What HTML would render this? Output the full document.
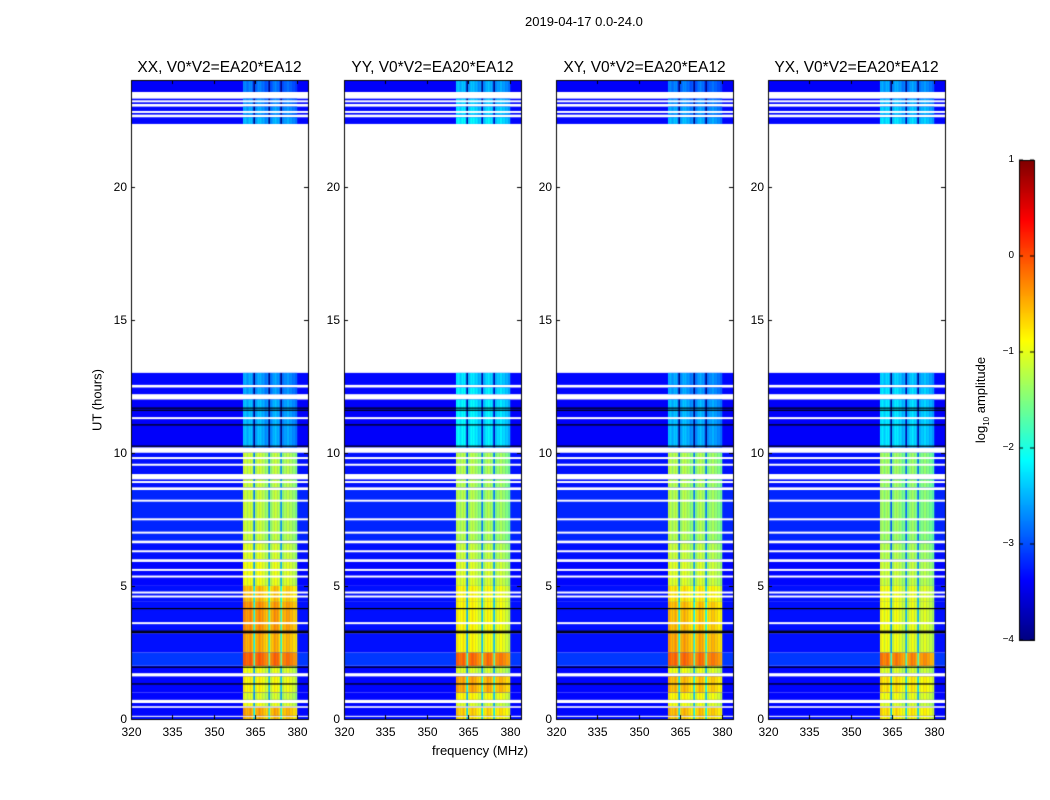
<!DOCTYPE html>
<html><head><meta charset="utf-8">
<style>
body{margin:0;background:#fff;font-family:"Liberation Sans","DejaVu Sans",sans-serif;}
#wrap{position:relative;width:1050px;height:800px;overflow:hidden;background:#fff}
.t{position:absolute;white-space:nowrap;color:#000}
canvas{position:absolute;left:0;top:0}
</style></head><body>
<div id="wrap">
<canvas id="cv" width="1050" height="800"></canvas>
<div class="t" style="left:525px;top:14px;font-size:13px">2019-04-17 0.0-24.0</div>
<div class="t" style="left:97px;top:400px;font-size:13px;transform:translate(-50%,-50%) rotate(-90deg);transform-origin:center">UT (hours)</div>
<div class="t" style="left:432px;top:743px;font-size:13px">frequency (MHz)</div>
<div class="t" style="left:982px;top:400px;font-size:13px;transform:translate(-50%,-50%) rotate(-90deg)">log<sub style="font-size:8px">10</sub> amplitude</div>
<div id="labels"></div>
</div>
<script>
// ---- data ----
const panelTitles=["XX, V0*V2=EA20*EA12","YY, V0*V2=EA20*EA12","XY, V0*V2=EA20*EA12","YX, V0*V2=EA20*EA12"];
const xTicks=[320,335,350,365,380];
const yTicks=[0,5,10,15,20];
const cbTicks=[1,0,-1,-2,-3,-4];
const cbTickLabels=["1","0","\u22121","\u22122","\u22123","\u22124"];
// time segments (hours)
const segStart=[0,0.08,0.12,0.42,0.48,0.6,0.72,1.0,1.6,1.72,2.0,2.5,3.2,4.4,5.0,5.9,6.0,6.6,6.7,8.6,8.7,9.0,9.2,10.0,10.2,12.0,12.2,12.45,12.55,13.0,22.35,22.6,22.7,23.0,23.1,23.3,23.55];
const segEnd  =[0.08,0.12,0.42,0.48,0.6,0.72,1.0,1.6,1.72,2.0,2.5,3.2,4.4,5.0,5.9,6.0,6.6,6.7,8.6,8.7,9.0,9.2,10.0,10.2,12.0,12.2,12.45,12.55,13.0,22.35,22.6,22.7,23.0,23.1,23.3,23.55,24];
const segBg   =[-3.3,null,-3.35,null,-3.35,null,-3.35,-3.35,null,-3.35,-3.1,-3.3,-3.3,-3.3,-3.35,null,-3.3,null,-3.2,null,-3.3,null,-3.3,null,-3.4,null,-3.35,null,-3.35,null,-3.35,null,-3.35,null,-3.35,null,-3.4];
const bandXX  =[-0.6,null,-0.5,null,-1.0,null,-1.1,-0.9,null,-1.0,-0.15,-0.5,-0.4,-0.6,-1.0,null,-1.1,null,-1.2,null,-1.2,null,-1.2,null,-2.5,null,-2.6,null,-2.6,null,-2.5,null,-2.6,null,-2.7,null,-2.8];
const bandYY  =[-0.8,null,-0.7,null,-1.1,null,-0.9,-0.5,null,-1.1,-0.2,-0.9,-0.9,-0.9,-1.1,null,-1.2,null,-1.3,null,-1.3,null,-1.3,null,-2.2,null,-2.2,null,-2.3,null,-2.2,null,-2.3,null,-2.4,null,-2.5];
const bandXY  =[-0.7,null,-0.6,null,-1.0,null,-0.9,-0.6,null,-1.0,-0.2,-0.5,-0.6,-0.8,-1.1,null,-1.2,null,-1.3,null,-1.3,null,-1.3,null,-2.5,null,-2.6,null,-2.6,null,-2.5,null,-2.6,null,-2.7,null,-2.8];
const bandYX  =[-0.9,null,-0.8,null,-1.1,null,-1.0,-0.8,null,-1.1,-0.3,-1.0,-1.0,-1.0,-1.2,null,-1.3,null,-1.4,null,-1.4,null,-1.4,null,-2.3,null,-2.3,null,-2.4,null,-2.3,null,-2.4,null,-2.5,null,-2.6];
const bandLevels=[bandXX,bandYY,bandXY,bandYX];
// in-band channel modifier, 36 bins from 360.5 to 380 MHz
const bandLo=360.5, bandHi=380;
const bandMod=[0.1,0.1,0,0,0.1,0.1,-0.1,-1.6,-0.1,0,0.1,0.1,0,0,-0.1,-0.2,-0.1,-1.5,-0.2,-0.1,0,0.1,0,0,-0.2,-1.5,-0.2,-0.1,-0.1,0,0,-0.1,-0.1,-0.2,-0.2,-0.3];
const whiteLines=[3.6,4.6,4.75,5.35,5.6,6.3,7.0,7.5,8.2,8.9,9.55,9.8,11.3,22.8,23.2];
const blackLines=[1.32,1.95,3.25,3.3,4.15,10.25,11.05,11.6,11.68];
// ---- layout ----
const px=[131,344,556,768], pw=177, yTop=80, yBot=719;
const fMin=320,fMax=384;
const X=(p,f)=>px[p]+(f-fMin)/(fMax-fMin)*pw;
const Y=h=>yBot-h/24*(yBot-yTop);
function jet(v){let t=(v+4)/5;t=Math.max(0,Math.min(1,t));
 const c=x=>Math.round(255*Math.max(0,Math.min(1,x)));
 return `rgb(${c(1.5-Math.abs(4*t-3))},${c(1.5-Math.abs(4*t-2))},${c(1.5-Math.abs(4*t-1))})`;}
const cv=document.getElementById('cv'),ctx=cv.getContext('2d');
const L=document.getElementById('labels');
function lab(txt,x,y,fs,name,align){const d=document.createElement('div');d.className='t';d.textContent=txt;
 d.style.fontSize=fs+'px';d.style.top=(y-fs*0.6)+'px';
 if(align==='c'){d.style.left=x+'px';d.style.transform='translateX(-50%)';}
 else if(align==='r'){d.style.right=(1050-x)+'px';} else d.style.left=x+'px';
 
 
 L.appendChild(d);}
const binW=(bandHi-bandLo)/bandMod.length;
for(let p=0;p<4;p++){
 const bl=bandLevels[p];
 for(let s=0;s<segStart.length;s++){
  if(segBg[s]===null)continue;
  const y0=Y(segEnd[s]),y1=Y(segStart[s]);
  ctx.fillStyle=jet(segBg[s]);ctx.fillRect(X(p,fMin),y0,X(p,fMax)-X(p,fMin),y1-y0);
  for(let b=0;b<bandMod.length;b++){
   const f0=bandLo+b*binW;
   ctx.fillStyle=jet(bl[s]+bandMod[b]);
   ctx.fillRect(X(p,f0),y0,X(p,f0+binW)-X(p,f0)+0.3,y1-y0);
  }
 }
 ctx.fillStyle='#fff';
 whiteLines.forEach(h=>ctx.fillRect(X(p,fMin),Y(h)-1,pw,2));
 ctx.fillStyle='#000';
 blackLines.forEach(h=>ctx.fillRect(X(p,fMin),Y(h)-0.5,pw,1.2));
 ctx.strokeStyle='#000';ctx.lineWidth=1;
 ctx.strokeRect(px[p]+0.5,yTop+0.5,pw,yBot-yTop);
 xTicks.forEach(f=>{const x=Math.round(X(p,f))+0.5;ctx.beginPath();ctx.moveTo(x,yBot);ctx.lineTo(x,yBot-4);ctx.moveTo(x,yTop);ctx.lineTo(x,yTop+4);ctx.stroke();
  lab(String(f),x,yBot+13,12,'x-tick-label','c');});
 yTicks.forEach(h=>{const y=Math.round(Y(h))+0.5;ctx.beginPath();ctx.moveTo(px[p],y);ctx.lineTo(px[p]+4,y);ctx.moveTo(px[p]+pw,y);ctx.lineTo(px[p]+pw-4,y);ctx.stroke();
  lab(String(h),px[p]-4,y,12,'y-tick-label','r');});
 lab(panelTitles[p],px[p]+pw/2,yTop-12,15.5,'panel-title','c');
}
// colorbar
const cbX=1019,cbW=15,cbT=160,cbB=640;
for(let y=cbT;y<cbB;y++){ctx.fillStyle=jet(1-(y-cbT)/(cbB-cbT)*5);ctx.fillRect(cbX,y,cbW,1);}
ctx.strokeStyle='#000';ctx.strokeRect(cbX+0.5,cbT+0.5,cbW,cbB-cbT);
cbTicks.forEach((v,i)=>{const y=cbT+(1-v)/5*(cbB-cbT);
 ctx.beginPath();ctx.moveTo(cbX,y);ctx.lineTo(cbX+4,y);ctx.moveTo(cbX+cbW,y);ctx.lineTo(cbX+cbW-4,y);ctx.stroke();
 lab(cbTickLabels[i],cbX-5,y,10,'colorbar-tick-label','r');});
</script>
</body></html>
